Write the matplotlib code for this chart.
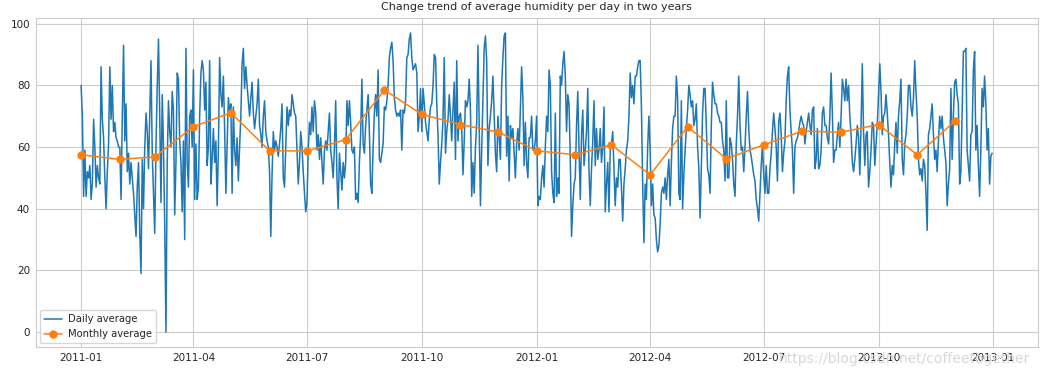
import pandas as pd
import matplotlib
matplotlib.use("Agg")
import matplotlib.pyplot as plt
import seaborn as sns

# daily average humidity (%), one list per month
hum_2011 = [
    # Jan
    80, 70, 44, 59, 44, 52, 50, 54, 43, 48, 69, 60, 47, 54, 50, 48, 86, 69, 63, 50,
    40, 52, 61, 86, 69, 80, 65, 68, 63, 62, 60,
    # Feb
    60, 43, 70, 93, 62, 74, 52, 58, 48, 55, 50, 45, 38, 31, 47, 55, 32, 19, 56, 40,
    60, 71, 65, 53, 70, 88, 58, 45,
    # Mar
    32, 60, 80, 95, 70, 42, 77, 60, 35, 0, 55, 75, 65, 60, 78, 72, 38, 55, 84, 82,
    62, 55, 39, 62, 30, 92, 55, 47, 70, 72, 60,
    # Apr
    85, 43, 61, 43, 47, 70, 84, 88, 85, 72, 81, 54, 60, 88, 48, 56, 66, 55, 62, 41,
    59, 89, 77, 73, 83, 66, 45, 60, 76, 71,
    # May
    74, 45, 73, 59, 54, 63, 49, 60, 70, 87, 92, 79, 86, 80, 75, 70, 76, 81, 71, 66,
    70, 74, 82, 67, 64, 60, 70, 75, 65, 62, 60,
    # Jun
    52, 31, 51, 65, 59, 62, 60, 57, 61, 66, 74, 50, 47, 60, 73, 67, 72, 70, 77, 74,
    71, 70, 59, 48, 55, 65, 60, 52, 45, 39,
    # Jul
    42, 59, 68, 64, 73, 65, 75, 71, 59, 64, 56, 63, 55, 48, 59, 62, 59, 65, 71, 59,
    55, 50, 60, 75, 50, 40, 58, 52, 46, 55, 50,
    # Aug
    55, 75, 67, 75, 68, 59, 58, 60, 43, 45, 42, 55, 64, 82, 61, 58, 67, 72, 77, 65,
    48, 45, 60, 71, 77, 70, 85, 56, 55, 58, 61,
    # Sep
    73, 72, 75, 80, 89, 92, 94, 88, 76, 72, 70, 71, 70, 72, 59, 72, 71, 75, 89, 90,
    95, 97, 89, 85, 86, 87, 84, 65, 70, 79,
    # Oct
    65, 79, 74, 68, 65, 62, 69, 73, 74, 80, 90, 89, 74, 64, 48, 55, 61, 69, 89, 58,
    65, 69, 77, 70, 62, 72, 81, 56, 88, 62, 70,
    # Nov
    71, 66, 51, 62, 75, 73, 75, 82, 72, 44, 55, 45, 60, 68, 93, 67, 41, 59, 75, 92,
    96, 88, 54, 66, 70, 75, 83, 70, 58, 52,
    # Dec
    70, 63, 56, 80, 89, 96, 97, 57, 70, 49, 67, 63, 66, 58, 50, 61, 66, 59, 72, 86,
    76, 54, 68, 55, 50, 63, 63, 70, 59, 59, 62,
]

hum_2012 = [
    # Jan
    70, 41, 44, 43, 50, 54, 47, 60, 70, 65, 85, 80, 52, 45, 42, 71, 44, 50, 45, 83,
    80, 87, 91, 83, 65, 77, 74, 56, 31, 41, 48,
    # Feb
    50, 67, 78, 59, 43, 64, 72, 54, 59, 65, 79, 52, 41, 53, 62, 75, 54, 66, 56, 59,
    66, 55, 60, 73, 39, 48, 55, 39, 59,
    # Mar
    61, 65, 53, 41, 50, 47, 56, 56, 47, 36, 48, 53, 59, 62, 70, 84, 76, 80, 74, 83,
    83, 86, 88, 88, 73, 48, 29, 48, 43, 60, 70,
    # Apr
    59, 41, 48, 38, 37, 30, 26, 28, 35, 45, 47, 45, 50, 43, 51, 56, 41, 55, 66, 70,
    70, 83, 76, 45, 43, 75, 40, 51, 59, 66,
    # May
    72, 80, 77, 73, 75, 67, 69, 74, 60, 53, 37, 53, 71, 79, 79, 67, 53, 51, 45, 67,
    81, 77, 74, 74, 71, 70, 68, 68, 62, 59, 49,
    # Jun
    75, 50, 50, 63, 61, 56, 48, 44, 61, 70, 83, 67, 59, 60, 52, 60, 70, 78, 66, 59,
    57, 54, 51, 49, 43, 40, 36, 45, 54, 61,
    # Jul
    51, 45, 54, 45, 45, 53, 58, 65, 71, 66, 60, 49, 68, 71, 64, 52, 58, 62, 75, 83,
    86, 72, 65, 59, 45, 60, 62, 63, 65, 68, 70,
    # Aug
    68, 67, 61, 65, 68, 71, 67, 64, 72, 73, 53, 56, 66, 53, 54, 59, 71, 73, 67, 67,
    63, 61, 70, 84, 71, 55, 59, 59, 64, 68, 60,
    # Sep
    70, 82, 79, 75, 82, 75, 80, 70, 64, 55, 52, 56, 61, 67, 63, 51, 67, 87, 65, 54,
    64, 65, 47, 52, 59, 68, 67, 54, 61, 67,
    # Oct
    77, 87, 78, 64, 70, 71, 77, 71, 64, 55, 47, 54, 51, 61, 68, 58, 70, 75, 82, 56,
    51, 61, 64, 70, 80, 80, 73, 70, 76, 88, 78,
    # Nov
    70, 56, 51, 53, 49, 56, 54, 45, 33, 64, 66, 70, 74, 64, 56, 59, 52, 62, 70, 66,
    70, 63, 59, 55, 41, 48, 53, 79, 56, 70,
    # Dec
    81, 82, 77, 74, 48, 52, 72, 91, 91, 92, 59, 54, 49, 64, 65, 85, 91, 59, 67, 54,
    44, 59, 79, 73, 83, 74, 59, 66, 48, 57, 58,
]

# monthly averages (plotted at the first day of each month)
monthly_avg = [
    57.5, 56.0, 56.8, 66.6, 71.1, 58.8, 58.7, 62.4, 78.5, 70.6, 67.3, 64.9,
    58.8, 57.5, 60.7, 51.0, 66.6, 56.2, 60.7, 65.2, 64.8, 67.3, 57.5, 68.3,
]

days = pd.date_range("2011-01-01", "2012-12-31", freq="D")
daily = pd.Series(hum_2011 + hum_2012, index=days)
months = pd.date_range("2011-01-01", "2012-12-01", freq="MS")
monthly = pd.Series(monthly_avg, index=months)

sns.set_style("whitegrid")
plt.rcParams["font.family"] = ["DejaVu Sans"]

fig, ax = plt.subplots(figsize=(10.46, 3.74), dpi=100)
fig.subplots_adjust(left=0.034, right=0.992, top=0.952, bottom=0.072)

ax.plot(daily.index, daily.values, color="#1f77b4", lw=1.1, label="Daily average")
ax.plot(monthly.index, monthly.values, color="#ff7f0e", lw=1.1, marker="o",
        markersize=5, label="Monthly average")

ax.set_title("Change trend of average humidity per day in two years", fontsize=8)
ax.tick_params(axis="both", labelsize=7.5, length=0, pad=4)
for s in ax.spines.values():
    s.set_color("#cccccc")
ax.legend(loc="lower left", fontsize=7.2, frameon=True, borderaxespad=0.4,
          handlelength=1.8, handletextpad=0.6)

# CSDN watermark
fig.text(0.985, 0.022, "https://blog.csdn.net/coffeetogether", ha="right",
         va="bottom", fontsize=10, color="#d8d8d8", zorder=10)

fig.savefig("out.png", dpi=100)
